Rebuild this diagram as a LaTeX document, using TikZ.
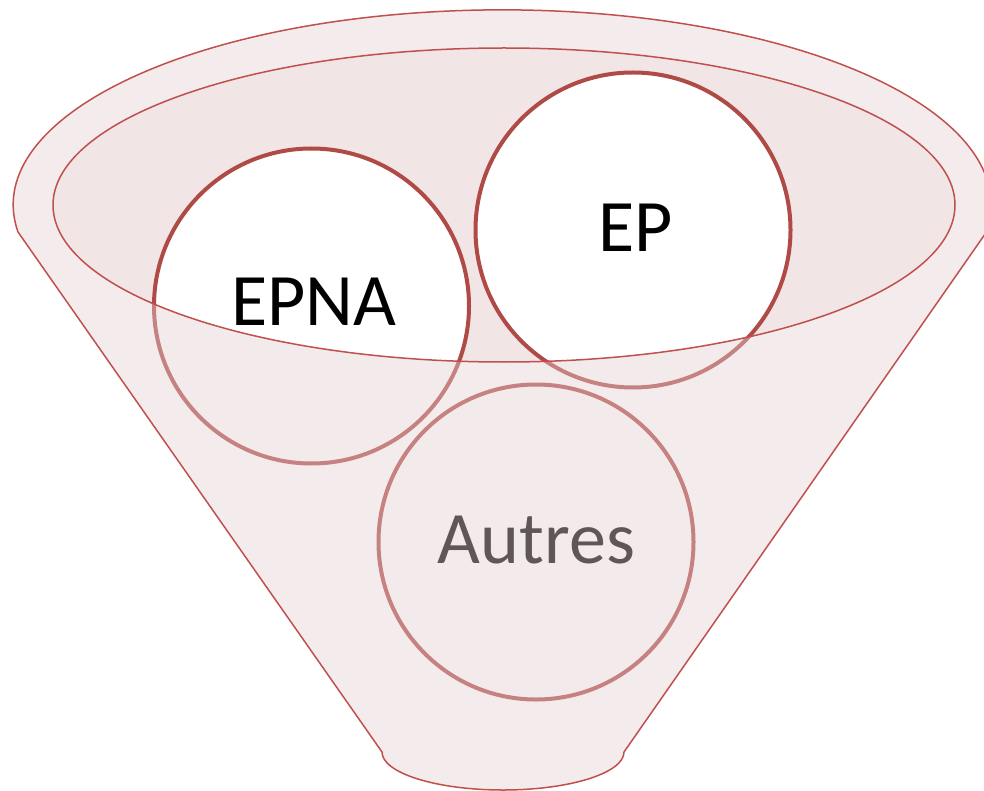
\documentclass[tikz,border=0pt]{standalone}
\usepackage{fontspec}
\setmainfont{Carlito}
\definecolor{funnelred}{HTML}{C0504D}
\definecolor{ringred}{HTML}{B04A47}
\definecolor{bowlpink}{HTML}{F1E5E5}
\definecolor{frontpink}{RGB}{228,209,209}
\begin{document}
\begin{tikzpicture}[x=1pt,y=-1pt,
  ring/.style={circle,draw=ringred,line width=4pt,fill=white,minimum size=315pt,inner sep=0pt},
  word/.style={anchor=base,font=\fontsize{74}{80}\selectfont}]
\useasboundingbox (0,0) rectangle (984,791);
% bowl seen from above
\fill[bowlpink] (504,205) ellipse [x radius=451pt, y radius=157pt];
% the three circles
\node[ring] (epna) at (311.5,306) {};
\node[ring] (ep) at (633,230) {};
\node[ring] (autres) at (536,542) {};
\node[word] (epnatxt) at (313.5,325) {EPNA};
\node[word] (eptxt) at (636,252) {EP};
\node[word] (autrestxt) at (536.5,563) {Autres};
% front of the funnel, see-through
\fill[frontpink,opacity=0.42,even odd rule]
  (18,232) arc[start angle=188, end angle=-8, x radius=489pt, y radius=195pt]
  -- (624,752) arc[start angle=0, end angle=-180, x radius=121pt, y radius=38pt] -- cycle
  (504,205) ellipse [x radius=451pt, y radius=157pt];
% outlines
\draw[funnelred,line width=1.5pt,line join=round]
  (18,232) arc[start angle=188, end angle=-8, x radius=489pt, y radius=195pt]
  -- (624,752) arc[start angle=0, end angle=-180, x radius=121pt, y radius=38pt] -- cycle;
\draw[funnelred,line width=1.5pt] (504,205) ellipse [x radius=451pt, y radius=157pt];
\end{tikzpicture}
\end{document}
